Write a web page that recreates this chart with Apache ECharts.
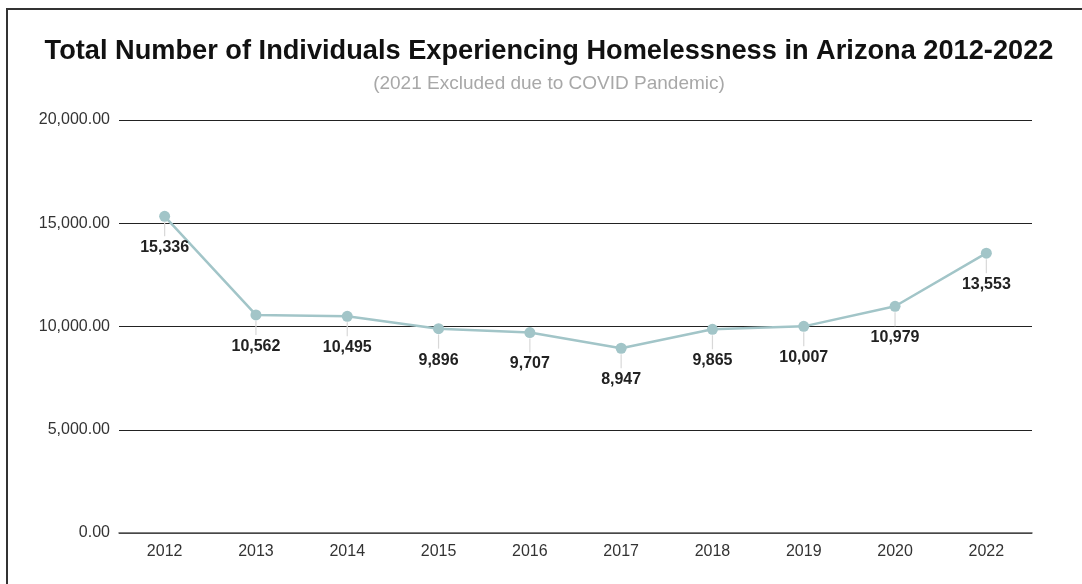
<!DOCTYPE html>
<html>
<head>
<meta charset="utf-8">
<script src="https://cdn.jsdelivr.net/npm/echarts@6/dist/echarts.min.js"></script>
<style>
html,body{margin:0;padding:0;background:#fff;}
#chart{width:1082px;height:584px;}
</style>
</head>
<body>
<div id="chart"></div>
<script>
const years = ['2012','2013','2014','2015','2016','2017','2018','2019','2020','2022'];
const homeless = [15336, 10562, 10495, 9896, 9707, 8947, 9865, 10007, 10979, 13553];
const yTicks = [0, 5000, 10000, 15000, 20000];

const chart = echarts.init(document.getElementById('chart'));
const font = 'Liberation Sans, Arial, sans-serif';
chart.setOption({
  animation: false,
  backgroundColor: '#fff',
  graphic: [{
    type: 'rect', silent: true, z: 100,
    shape: {x: 7, y: 9, width: 1300, height: 800},
    style: {fill: 'none', stroke: '#333', lineWidth: 2}
  }],
  title: {
    text: 'Total Number of Individuals Experiencing Homelessness in Arizona 2012-2022',
    subtext: '(2021 Excluded due to COVID Pandemic)',
    left: 544, textAlign: 'center', top: 33,
    itemGap: 9,
    textStyle: {fontFamily: font, fontSize: 27.2, fontWeight: 'bold', color: '#111'},
    subtextStyle: {fontFamily: font, fontSize: 19, color: '#a8a8a8'}
  },
  grid: {left: 119, right: 50, top: 120, bottom: 51},
  xAxis: {
    type: 'category', data: years, boundaryGap: true,
    axisLine: {lineStyle: {color: '#555', width: 1.5}},
    axisTick: {show: false},
    axisLabel: {fontFamily: font, fontSize: 16, color: '#333', margin: 11}
  },
  yAxis: {
    type: 'value', min: yTicks[0], max: yTicks[yTicks.length-1], interval: 5000,
    axisLine: {show: false}, axisTick: {show: false},
    splitLine: {lineStyle: {color: '#222', width: 1.2}},
    axisLabel: {
      fontFamily: font, fontSize: 16, color: '#333', margin: 9,
      formatter: v => v.toLocaleString('en-US', {minimumFractionDigits: 2, maximumFractionDigits: 2})
    }
  },
  series: [{
    type: 'line', data: homeless, z: 3,
    lineStyle: {color: '#a2c5c8', width: 2.5},
    itemStyle: {color: '#a2c5c8'},
    symbol: 'circle', symbolSize: 11,
    label: {
      show: true, position: 'bottom', distance: 18,
      fontFamily: font, fontSize: 16, fontWeight: 'bold', color: '#222',
      formatter: p => p.value.toLocaleString('en-US')
    }
  }, {
    type: 'custom', z: 2, silent: true,
    data: homeless.map((v, i) => [i, v]),
    renderItem: (params, api) => {
      const p = api.coord([api.value(0), api.value(1)]);
      return {
        type: 'line',
        shape: {x1: p[0], y1: p[1] + 6, x2: p[0], y2: p[1] + 20},
        style: {stroke: '#d8d8d8', lineWidth: 1.2}
      };
    }
  }]
});
</script>
</body>
</html>
